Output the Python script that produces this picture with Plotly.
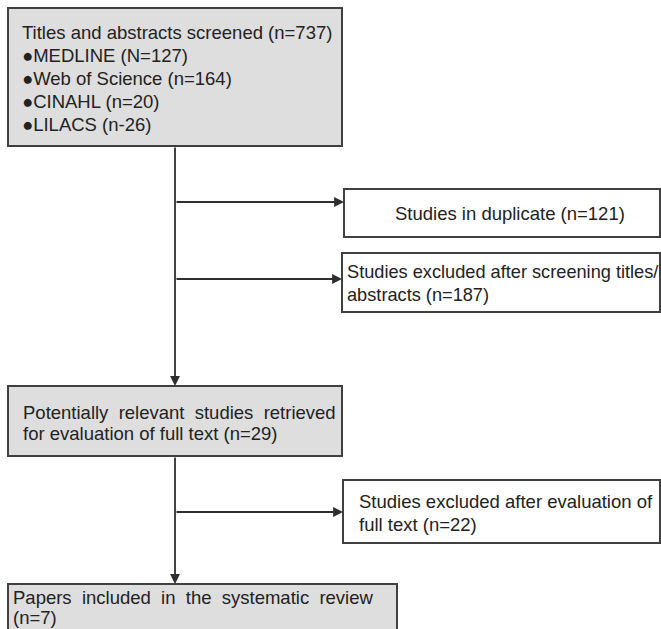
import plotly.graph_objects as go

# ---- content ----
screened_lines = [
    "Titles and abstracts screened (n=737)",
    "\u25cfMEDLINE (N=127)",
    "\u25cfWeb of Science (n=164)",
    "\u25cfCINAHL (n=20)",
    "\u25cfLILACS (n-26)",
]
duplicate_lines = ["Studies in duplicate (n=121)"]
excluded_screen_lines = ["Studies excluded after screening titles/", "abstracts (n=187)"]
retrieved_lines = ["Potentially relevant studies retrieved", "for evaluation of full text (n=29)"]
excluded_full_lines = ["Studies excluded after evaluation of", "full text (n=22)"]
included_lines = ["Papers included in the systematic review", "(n=7)"]

W, H = 661, 629
FONT = "Liberation Sans, Arial, sans-serif"
FS = 18.5
TXT = "#222222"
EDGE = "#404040"
GRAY = "#dedede"
LINE = "#2e2e2e"

def justify(s, n_extra=1):
    return s.replace(" ", " " + "\u00a0" * n_extra)

fig = go.Figure()
shapes = []
annos = []

def box(x0, x1, y0, y1, fill):
    shapes.append(dict(type="rect", xref="x", yref="y", x0=x0, x1=x1, y0=y0, y1=y1,
                       line=dict(color=EDGE, width=2), fillcolor=fill, layer="below"))

def lines(texts, x, ys, anchor="left", size=FS):
    for t, y in zip(texts, ys):
        annos.append(dict(x=x, y=y, xref="x", yref="y", text=t, showarrow=False,
                          xanchor=anchor, yanchor="middle",
                          font=dict(family=FONT, size=size, color=TXT)))

def arrow(x0, y0, x1, y1):
    annos.append(dict(x=x1, y=y1, ax=x0, ay=y0, xref="x", yref="y", axref="x", ayref="y",
                      text="", showarrow=True, arrowhead=2, arrowsize=1.1, arrowwidth=1.8,
                      arrowcolor=LINE, standoff=0, startstandoff=0))

# boxes
box(8, 342, 8, 146, GRAY)
box(344, 660, 189, 237, "white")
box(342, 660, 253, 312, "white")
box(8, 342, 386, 456, GRAY)
box(343, 660, 480, 543, "white")
box(8, 397, 584, 645, GRAY)

# text
lines(screened_lines, 20, [32, 55, 78, 101, 124])
lines(duplicate_lines, 510, [213], anchor="center")
lines(excluded_screen_lines, 345, [272, 295], size=18.2)
lines([justify(retrieved_lines[0]), retrieved_lines[1]], 21, [412, 433])
lines(excluded_full_lines, 357, [501, 524])
lines([justify(included_lines[0]), included_lines[1]], 11, [597, 617])

# connectors
arrow(175, 146, 175, 386)
arrow(175, 202, 344, 202)
arrow(175, 279, 342, 279)
arrow(175, 456, 175, 584)
arrow(175, 512, 343, 512)

fig.update_layout(
    width=W, height=H,
    margin=dict(l=0, r=0, t=0, b=0),
    paper_bgcolor="white", plot_bgcolor="white",
    xaxis=dict(range=[0, W], visible=False, fixedrange=True),
    yaxis=dict(range=[H, 0], visible=False, fixedrange=True),
    shapes=shapes, annotations=annos, showlegend=False,
)
fig.write_html("out.html", config={"displayModeBar": False},
               post_script="document.body.style.margin='0';document.body.style.overflow='hidden';")
